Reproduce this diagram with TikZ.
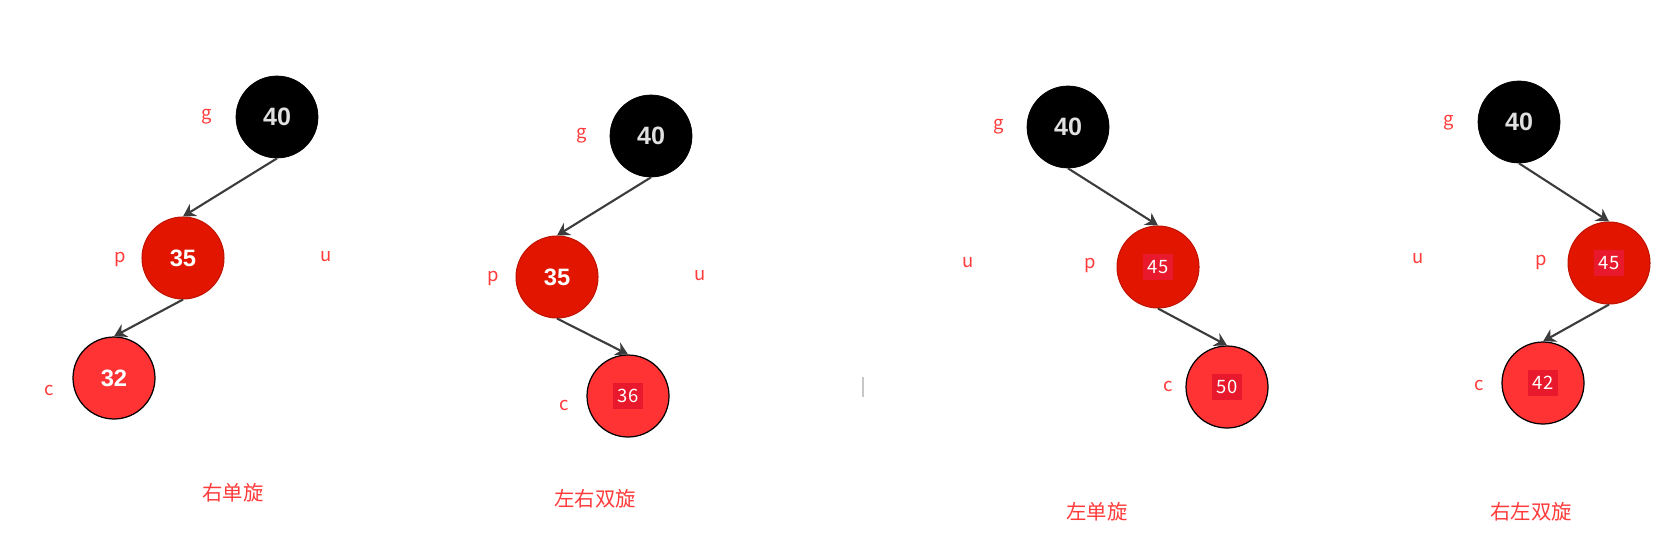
\documentclass[tikz,border=0pt]{standalone}
\usepackage{fontspec}
\setmainfont{Liberation Sans}
\newfontfamily\cjk{Noto Sans CJK SC}
\usetikzlibrary{arrows.meta}

\definecolor{nodeblack}{HTML}{000000}
\definecolor{parentred}{HTML}{E21600}
\definecolor{childred}{HTML}{FF3333}
\definecolor{boxred}{HTML}{E8192C}
\definecolor{tagred}{HTML}{FF3B3B}
\definecolor{edgegray}{HTML}{3C3C3C}

\begin{document}
\begin{tikzpicture}[x=0.02cm, y=-0.02cm, >=Stealth,
  gnode/.style={circle, minimum size=1.64cm, inner sep=0pt, fill=nodeblack, draw=nodeblack,
    text=white!88!black, font=\bfseries\fontsize{14.3}{16}\selectfont},
  pnode/.style={circle, minimum size=1.64cm, inner sep=0pt, fill=parentred, draw=parentred!85!black,
    line width=0.6pt, text=white, font=\bfseries\fontsize{13.5}{16}\selectfont},
  cnode/.style={circle, minimum size=1.64cm, inner sep=0pt, fill=childred, draw=black,
    line width=0.7pt, text=white, font=\bfseries\fontsize{13.5}{16}\selectfont},
  numbox/.style={fill=boxred, text=white, inner sep=2.5pt, minimum width=0.6cm, minimum height=0.52cm,
    font=\cjk\fontsize{10.5}{12}\selectfont},
  tag/.style={text=tagred, font=\cjk\fontsize{10.5}{12}\selectfont},
  caption/.style={text=tagred, font=\cjk\fontsize{11.6}{14}\selectfont},
  edge/.style={->, draw=edgegray, line width=1.2pt, arrows={-Stealth[length=7pt, width=8pt]}}]

\useasboundingbox[fill=white] (0,0) rectangle (1665,558);

% ---- Panel 1: right single rotation ----
\node[gnode] (g1) at (277,117) {40};
\node[pnode] (p1) at (183,258) {35};
\node[cnode] (c1) at (114,378) {32};
\node[tag] (g1t) at (207,117) {g};
\node[tag] (p1t) at (120,259) {p};
\node[tag] (u1t) at (326,257) {u};
\node[tag] (c1t) at (49,390) {c};
\draw[edge] (g1.south) -- (p1.north);
\draw[edge] (p1.south) -- (c1.north);
\node[caption] (cap1) at (233,493) {右单旋};

% ---- Panel 2: left-right double rotation ----
\node[gnode] (g2) at (651,136) {40};
\node[pnode] (p2) at (557,277) {35};
\node[cnode] (c2) at (628,396) {};
\node[numbox] (c2n) at (c2) {36};
\node[tag] (g2t) at (582,136) {g};
\node[tag] (p2t) at (493,278) {p};
\node[tag] (u2t) at (700,276) {u};
\node[tag] (c2t) at (564,405) {c};
\draw[edge] (g2.south) -- (p2.north);
\draw[edge] (p2.south) -- (c2.north);
\node[caption] (cap2) at (595,499) {左右双旋};

% faint mark between the halves
\draw[black!22, line width=0.6pt] (863,377) -- (863,397);

% ---- Panel 3: left single rotation ----
\node[gnode] (g3) at (1068,127) {40};
\node[pnode] (p3) at (1158,267) {};
\node[numbox] (p3n) at (p3) {45};
\node[cnode] (c3) at (1227,387) {};
\node[numbox] (c3n) at (c3) {50};
\node[tag] (g3t) at (999,127) {g};
\node[tag] (u3t) at (968,263) {u};
\node[tag] (p3t) at (1090,265) {p};
\node[tag] (c3t) at (1168,386) {c};
\draw[edge] (g3.south) -- (p3.north);
\draw[edge] (p3.south) -- (c3.north);
\node[caption] (cap3) at (1097,512) {左单旋};

% ---- Panel 4: right-left double rotation ----
\node[gnode] (g4) at (1519,122) {40};
\node[pnode] (p4) at (1609,263) {};
\node[numbox] (p4n) at (p4) {45};
\node[cnode] (c4) at (1543,383) {};
\node[numbox] (c4n) at (c4) {42};
\node[tag] (g4t) at (1449,123) {g};
\node[tag] (u4t) at (1418,259) {u};
\node[tag] (p4t) at (1541,262) {p};
\node[tag] (c4t) at (1479,385) {c};
\draw[edge] (g4.south) -- (p4.north);
\draw[edge] (p4.south) -- (c4.north);
\node[caption] (cap4) at (1531,512) {右左双旋};

\end{tikzpicture}
\end{document}
